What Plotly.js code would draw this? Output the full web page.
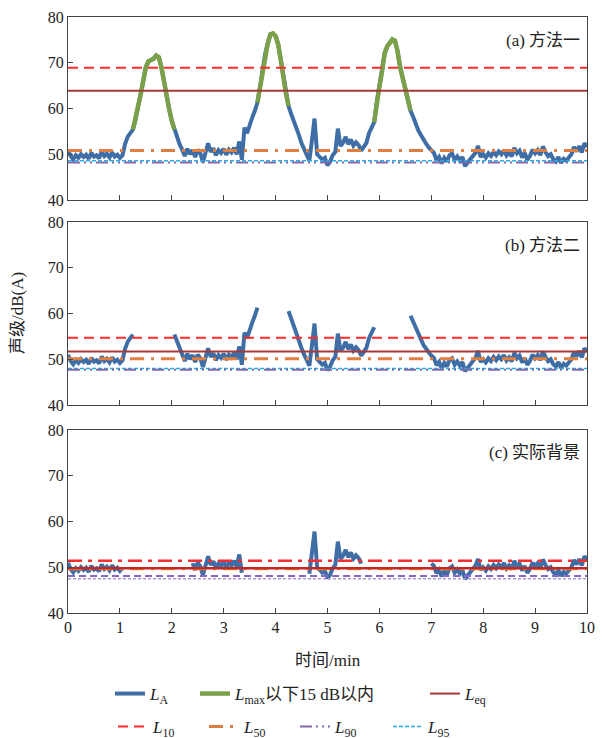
<!DOCTYPE html>
<html>
<head>
<meta charset="utf-8">
<script src="https://cdn.plot.ly/plotly-3.0.1.min.js"></script>
<style>html,body{margin:0;padding:0;background:#fff;}#chart{width:602px;height:738px;}</style>
</head>
<body>
<div id="chart"></div>
<script>
// A-weighted sound level, sampled every 0.05 min from 0 to 10 min (method 1 full record)
const LA = [
51.0,49.6,48.9,49.8,49.2,50.0,49.4,49.9,49.0,50.3,
49.5,49.8,49.1,50.6,49.6,50.1,49.3,50.4,49.5,49.9,
49.2,49.8,52.3,53.8,54.6,55.4,57.5,60.5,63.0,65.8,
69.0,70.3,70.6,70.9,71.6,71.2,69.0,65.5,62.8,59.8,
57.3,55.4,54.0,52.2,51.0,49.6,51.2,50.0,50.9,49.4,
51.0,50.2,48.3,50.8,52.4,50.5,51.3,49.8,50.9,50.3,
51.2,49.9,51.0,50.4,51.4,50.0,52.8,48.8,55.8,54.6,
56.6,58.0,59.5,61.3,64.8,68.5,72.0,74.3,76.2,76.4,
75.8,74.0,70.5,66.5,63.2,60.5,58.8,57.4,55.6,54.2,
52.4,51.0,50.0,48.6,53.0,57.8,50.0,49.4,48.8,49.2,
47.6,48.4,49.8,50.5,55.6,51.8,52.5,53.8,52.2,53.2,
51.9,52.6,52.0,50.8,51.7,52.5,54.6,56.0,57.0,61.5,
64.8,68.0,72.0,73.6,74.5,75.1,74.8,72.5,69.0,66.5,
63.8,61.3,59.5,58.2,56.5,55.2,54.2,53.1,52.3,51.5,
50.8,50.3,48.7,49.4,48.0,49.2,48.4,49.8,50.2,48.8,
49.5,48.6,49.4,47.4,48.2,48.8,49.6,50.3,51.8,49.4,
50.0,49.3,50.2,49.6,50.5,49.8,50.6,50.0,50.9,49.7,
50.4,49.5,51.4,50.2,50.8,49.3,50.3,48.8,49.6,51.0,
50.2,50.9,49.8,51.7,50.5,49.6,50.0,48.9,48.4,49.4,
48.1,49.0,48.6,49.5,50.0,51.6,50.6,51.8,50.4,52.4,
51.6
];
const STEP_MIN = 0.05;
const PEAK_WINDOWS = [[1.0, 2.3], [3.3, 4.6], [5.7, 7.0]];
const LMAX_DROP = 15;
const BG_GAPS = [[1.06, 2.38], [3.37, 4.62], [5.67, 6.98]];

const PANEL_LABELS = ['(a) 方法一', '(b) 方法二', '(c) 实际背景'];
const L_EQ = [63.9, 51.7, 49.8];
const L_10 = [68.9, 54.7, 51.4];
const L_50 = [50.8, 50.1, 49.6];
const L_90 = [48.2, 47.7, 48.1];
const L_95 = [48.6, 48.0, 47.5];
const X_TICKS = [0,1,2,3,4,5,6,7,8,9,10];
const Y_TICKS = [40,50,60,70,80];

const time = LA.map((v, i) => +(i * STEP_MIN).toFixed(2));

// green = within 15 dB of each event's Lmax
const isGreen = LA.map((v, i) => {
  const t = time[i];
  for (const w of PEAK_WINDOWS) {
    if (t >= w[0] && t <= w[1]) {
      let mx = -Infinity;
      LA.forEach((u, j) => { if (time[j] >= w[0] && time[j] <= w[1]) mx = Math.max(mx, u); });
      return v >= mx - LMAX_DROP;
    }
  }
  return false;
});
const green = LA.map((v, i) => (isGreen[i] || isGreen[i-1] || isGreen[i+1]) ? v : null);
const method2 = LA.map((v, i) => isGreen[i] ? null : v);
const background = LA.map((v, i) => BG_GAPS.some(g => time[i] > g[0] && time[i] < g[1]) ? null : v);

const SERIF = 'Liberation Serif, Times New Roman, Noto Sans CJK SC, serif';
const C_LA = '#3f6ea6', C_G = '#7aa14a', C_EQ = '#a63a3a', C_10 = '#ff2a2a',
      C_50 = '#df7f40', C_90 = '#8468a8', C_95 = '#22aee6';

const traces = [];
const axes = [['x','y'],['x2','y2'],['x3','y3']];
const series = [LA, method2, background];

function hline(p, val, color, dash, width, name, leg, show) {
  traces.push({x: [X_TICKS[0], X_TICKS[X_TICKS.length-1]], y: [val, val], xaxis: axes[p][0], yaxis: axes[p][1],
    mode: 'lines', line: {color: color, dash: dash, width: width}, name: name,
    showlegend: show, legend: leg, hoverinfo: 'skip'});
}

for (let p = 0; p < 3; p++) {
  const first = p === 0;
  traces.push({x: time, y: series[p], xaxis: axes[p][0], yaxis: axes[p][1], mode: 'lines',
    line: {color: C_LA, width: 4}, name: '<i>L</i><sub>A</sub>', showlegend: first, legend: 'legend'});
  if (first) {
    traces.push({x: time, y: green, xaxis: 'x', yaxis: 'y', mode: 'lines',
      line: {color: C_G, width: 4.5}, name: '<i>L</i><sub>max</sub>以下15 dB以内', showlegend: true, legend: 'legend2'});
  }
  if (p < 2) {
    hline(p, L_95[p], C_95, '4px,2px', 1.5, '<i>L</i><sub>95</sub>', 'legend7', first);
    hline(p, L_90[p], C_90, '12px,4px,2px,4px,2px,4px', 2, '<i>L</i><sub>90</sub>', 'legend6', first);
    hline(p, L_50[p], C_50, '14px,7px,3px,7px', 3, '<i>L</i><sub>50</sub>', 'legend5', first);
    hline(p, L_10[p], C_10, '10px,6px', 2, '<i>L</i><sub>10</sub>', 'legend4', first);
    hline(p, L_EQ[p], C_EQ, 'solid', 2, '<i>L</i><sub>eq</sub>', 'legend3', first);
  } else {
    hline(p, L_95[p], '#a99ad6', '3px,2px', 1.5, '<i>L</i><sub>95</sub>', 'legend7', false);
    hline(p, L_90[p], '#8a66cc', '7px,4px', 2, '<i>L</i><sub>90</sub>', 'legend6', false);
    hline(p, L_50[p], '#f0a030', '14px,7px,3px,7px', 2.5, '<i>L</i><sub>50</sub>', 'legend5', false);
    hline(p, L_10[p], '#f03030', '14px,6px,4px,6px', 2.5, '<i>L</i><sub>10</sub>', 'legend4', false);
    hline(p, L_EQ[p], '#c82424', 'solid', 2.5, '<i>L</i><sub>eq</sub>', 'legend3', false);
  }
}

const H = 596, TOP = 17, BOT = 613;
const py = px => (BOT - px) / H;
const pxX = px => (px - 68) / 519;

function xax(domainAnchor, labels) {
  return {anchor: domainAnchor, range: [0, 10], tickvals: X_TICKS, ticks: 'inside', ticklen: 5,
    tickcolor: '#444', showline: true, linecolor: '#444', linewidth: 1, mirror: true,
    showgrid: false, zeroline: false, showticklabels: labels,
    tickfont: {family: SERIF, size: 16, color: '#222'}};
}
function yax(domain, anchor) {
  return {anchor: anchor, domain: domain, range: [40, 80], tickvals: Y_TICKS, ticks: 'inside', ticklen: 5,
    tickcolor: '#444', showline: true, linecolor: '#444', linewidth: 1, mirror: true,
    showgrid: false, zeroline: false, tickfont: {family: SERIF, size: 16, color: '#222'}};
}

function leg(xpx, ypx) {
  return {x: pxX(xpx), y: py(ypx), xanchor: 'left', yanchor: 'middle', orientation: 'h',
    bgcolor: 'rgba(0,0,0,0)', font: {family: SERIF, size: 17, color: '#222'}, tracegroupgap: 0};
}

const layout = {
  width: 602, height: 738,
  margin: {l: 68, r: 15, t: TOP, b: 738 - BOT, autoexpand: false},
  paper_bgcolor: '#fff', plot_bgcolor: '#fff',
  xaxis: xax('y', false), xaxis2: xax('y2', false), xaxis3: xax('y3', true),
  yaxis: yax([py(200), 1], 'x'), yaxis2: yax([py(405), py(222)], 'x2'), yaxis3: yax([0, py(430)], 'x3'),
  legend: leg(110, 694), legend2: leg(195, 694), legend3: leg(425, 694),
  legend4: leg(113, 727), legend5: leg(204, 727), legend6: leg(295, 727), legend7: leg(388, 727),
  annotations: [
    {text: PANEL_LABELS[0], xref: 'paper', yref: 'paper', x: pxX(582), y: py(40), xanchor: 'right', yanchor: 'middle', showarrow: false, font: {family: SERIF, size: 17, color: '#222'}},
    {text: PANEL_LABELS[1], xref: 'paper', yref: 'paper', x: pxX(582), y: py(245), xanchor: 'right', yanchor: 'middle', showarrow: false, font: {family: SERIF, size: 17, color: '#222'}},
    {text: PANEL_LABELS[2], xref: 'paper', yref: 'paper', x: pxX(582), y: py(453), xanchor: 'right', yanchor: 'middle', showarrow: false, font: {family: SERIF, size: 17, color: '#222'}},
    {text: '时间/min', xref: 'paper', yref: 'paper', x: 0.5, y: py(660), xanchor: 'center', yanchor: 'middle', showarrow: false, font: {family: SERIF, size: 17, color: '#222'}},
    {text: '声级/dB(A)', xref: 'paper', yref: 'paper', x: pxX(18), y: py(313), xanchor: 'center', yanchor: 'middle', textangle: -90, showarrow: false, font: {family: SERIF, size: 17, color: '#222'}}
  ]
};

Plotly.newPlot('chart', traces, layout, {staticPlot: true, displayModeBar: false});
</script>
</body>
</html>
